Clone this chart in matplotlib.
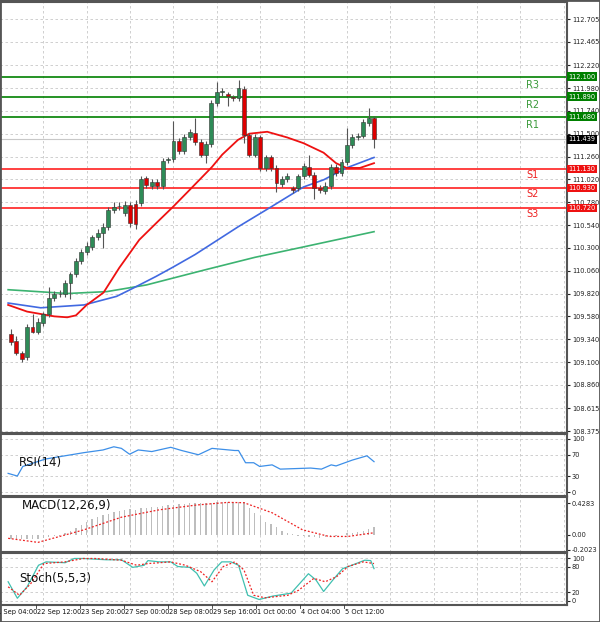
import matplotlib
matplotlib.use("Agg")
import matplotlib.pyplot as plt
import numpy as np

# ---------------- data ----------------
opens = [109.39,109.32,109.19,109.15,109.47,109.42,109.51,109.60,109.77,109.81,
         109.81,109.93,110.02,110.16,110.26,110.31,110.41,110.46,110.52,110.70,
         110.74,110.67,110.75,110.76,110.77,111.03,110.95,110.99,110.95,111.22,
         111.23,111.42,111.32,111.46,111.51,111.41,111.28,111.39,111.82,111.94,
         111.92,111.89,111.87,111.97,111.49,111.28,111.46,111.14,111.25,111.14,
         110.97,111.02,110.93,110.93,111.05,111.15,111.07,110.93,110.90,110.95,
         111.15,111.09,111.20,111.38,111.46,111.48,111.61,111.67]
closes = [109.31,109.20,109.13,109.47,109.42,109.52,109.60,109.77,109.82,109.82,
          109.93,110.02,110.16,110.26,110.32,110.41,110.46,110.52,110.70,110.73,
          110.735,110.75,110.56,110.55,111.02,110.96,110.99,110.95,111.21,111.23,
          111.42,111.32,111.46,111.52,111.41,111.28,111.39,111.82,111.94,111.945,
          111.90,111.87,111.98,111.49,111.28,111.47,111.14,111.25,111.14,110.98,
          111.02,111.06,110.91,111.05,111.16,111.07,110.93,110.91,110.95,111.15,
          111.09,111.20,111.38,111.47,111.48,111.62,111.67,111.439]
highs = [109.45,109.37,109.22,109.50,109.60,109.56,109.63,109.89,109.85,109.86,
         109.96,110.05,110.19,110.29,110.36,110.44,110.50,110.56,110.73,110.78,
         110.78,110.79,110.78,110.80,111.06,111.06,111.02,111.02,111.24,111.26,
         111.63,111.45,111.50,111.55,111.67,111.44,111.42,111.85,112.04,111.98,
         111.94,111.91,112.065,112.00,111.51,111.50,111.49,111.28,111.28,111.17,
         111.05,111.09,110.95,111.08,111.19,111.28,111.10,110.96,110.99,111.18,
         111.18,111.23,111.56,111.50,111.51,111.65,111.77,111.69]
lows = [109.28,109.17,109.10,109.12,109.40,109.39,109.48,109.57,109.74,109.78,
        109.78,109.76,109.99,110.13,110.23,110.28,110.38,110.30,110.49,110.67,
        110.70,110.64,110.52,110.50,110.74,110.93,110.92,110.92,110.92,111.19,
        111.20,111.29,111.29,111.43,111.38,111.25,111.19,111.36,111.79,111.90,
        111.79,111.84,111.84,111.40,111.25,111.25,111.11,111.11,111.11,110.89,
        110.94,110.99,110.88,110.90,111.02,111.04,110.81,110.88,110.87,110.92,
        111.06,111.06,111.17,111.35,111.43,111.45,111.58,111.35]

ma_red_idx = [-0.5,3,8,10.4,12,14,17.1,20,23.7,27,29.9,33,37.1,39,41.9,44,47.3,51,54,57.7,60,61.9,64.4,67]
ma_red = [109.70,109.63,109.58,109.57,109.59,109.70,109.83,110.09,110.385,110.57,110.73,110.91,
          111.15,111.28,111.435,111.50,111.52,111.46,111.40,111.30,111.19,111.14,111.14,111.19]
ma_blue_idx = [-0.5,5.5,13.5,19.5,22,26.8,30,34,41.9,48,54,57.7,61.9,67]
ma_blue = [109.72,109.67,109.70,109.79,109.86,110.00,110.10,110.23,110.52,110.73,110.94,111.015,111.14,111.25]
ma_green_idx = [-0.5,10.4,17.7,25,35.9,45,54,67]
ma_green = [109.86,109.82,109.84,109.91,110.07,110.20,110.31,110.47]

res_levels = [112.100, 111.890, 111.680]
res_names = ["R3", "R2", "R1"]
sup_levels = [111.130, 110.930, 110.720]
sup_names = ["S1", "S2", "S3"]
last_price = 111.439

price_ticks = [112.705,112.465,112.220,111.980,111.740,111.500,111.260,111.020,110.780,
               110.540,110.300,110.060,109.820,109.580,109.340,109.100,108.860,108.615,108.375]

rsi_idx = [-0.5,1.2,2.2,6.4,13.5,17,19,20.4,21.9,23.5,26,29.5,31.5,34.6,37.1,41.3,42,43.3,
           44.8,45.9,48.2,49.7,55.3,57.3,59.1,60,63,65.7,67]
rsi = [35,30,48,62,74,79,85,82,71,79,76,84,78,70,82,78,78,55,55,48,51,43,45,43,51,49,60,68,57]

macd_hist = [-0.05,-0.05,-0.06,-0.06,-0.05,-0.05,-0.04,-0.03,-0.02,-0.01,
             0.02,0.06,0.10,0.14,0.18,0.21,0.24,0.27,0.29,0.31,
             0.33,0.34,0.35,0.34,0.36,0.37,0.38,0.38,0.39,0.40,
             0.41,0.42,0.42,0.43,0.43,0.43,0.43,0.43,0.44,0.45,
             0.45,0.45,0.45,0.44,0.37,0.30,0.26,0.18,0.15,0.11,
             0.06,0.03,0.01,-0.01,-0.02,-0.03,-0.03,-0.04,-0.03,-0.02,
             -0.01,0.00,0.02,0.03,0.04,0.06,0.08,0.11]
macd_sig_idx = [-0.5,5,13.5,20.4,27.4,34.3,40,43,48.2,53.8,58.7,62.2,67]
macd_sig = [-0.045,-0.10,0.07,0.24,0.34,0.405,0.44,0.436,0.30,0.07,-0.02,-0.02,0.03]

stoch_idx = [-0.5,1.2,3,5.1,6.5,10,11.7,13.4,14.8,17.6,20.4,22.5,24.6,25.3,27.4,29.5,30.8,33,
             34.3,35.7,37.5,38.9,40.6,42,43.7,45.8,48.3,51.7,54.9,56.3,57.7,59.4,61.2,62.9,
             65.3,66.4,67]
stoch_k = [45,6,33,84,92,90,100,100,99,97,97,79,84,95,92,92,81,79,65,35,73,92,92,84,13,3,11,
           18,64,49,22,49,76,84,96,95,76]
stoch_sig_idx = [-0.5,1.6,3.7,6.1,10,13.4,15.5,20.4,23.2,25.3,29.5,32.2,35,37.1,39.2,41.3,43,
                 44.8,46.9,51.1,53.1,55.9,58,60.1,62.2,65,67]
stoch_d = [33,13,41,88,92,100,100,96,84,88,92,84,69,45,81,92,73,13,7,13,25,53,45,57,81,92,88]

tick_idx = [-2,6,14,22,30,38,46,54,62,70,78,86,94,102]
date_labels = ["21 Sep 04:00","22 Sep 12:00","23 Sep 20:00","27 Sep 00:00","28 Sep 08:00",
               "29 Sep 16:00","1 Oct 00:00","4 Oct 04:00","5 Oct 12:00"]

# ---------------- figure ----------------
W, H = 600, 622
fig = plt.figure(figsize=(6, 6.22), dpi=100)
fig.patch.set_facecolor("white")
plt.rcParams["font.family"] = "DejaVu Sans"
TS = 4.8

def mk(top, bot):
    return fig.add_axes([0, 1 - bot / H, 567 / W, (bot - top) / H])

ax = mk(2, 433)
ar = mk(434, 496)
am = mk(497, 552)
ast = mk(553, 605)
XL = (-0.5, 102.6)
grid_kw = dict(color="#c8c8c8", lw=0.6, ls=(0, (3, 3)))

for a in (ax, ar, am, ast):
    a.set_xlim(*XL)
    a.set_xticks(tick_idx)
    a.tick_params(axis="x", length=0, labelbottom=False)
    a.grid(True, axis="x", **grid_kw)
    a.yaxis.tick_right()
    a.tick_params(axis="y", labelsize=TS, length=2, pad=1.5, colors="#222222")
    for s in a.spines.values():
        s.set_color("#555555")
        s.set_linewidth(1.5)
    a.set_axisbelow(True)

# main
ax.set_ylim(108.354, 112.884)
ax.set_yticks(price_ticks)
ax.set_yticklabels([f"{v:.3f}" for v in price_ticks])
ax.grid(True, axis="y", **grid_kw)
ax.axhline(last_price, color="#c8c8c8", lw=0.8)
for lv in res_levels:
    ax.axhline(lv, color="#008000", lw=1.2)
for lv in sup_levels:
    ax.axhline(lv, color="#ff2020", lw=1.2)
ax.plot(ma_green_idx, ma_green, color="#3cb371", lw=1.2)
ax.plot(ma_blue_idx, ma_blue, color="#4169e1", lw=1.2)
ax.plot(ma_red_idx, ma_red, color="#ee1111", lw=1.3)

for i, (o, h, l, c) in enumerate(zip(opens, highs, lows, closes)):
    ax.vlines(i, l, h, color="#555555", lw=0.8, zorder=3)
    col = "#2e8b57" if c >= o else "#dd0000"
    b = min(o, c)
    hgt = max(abs(c - o), 0.008)
    ax.bar(i, hgt, bottom=b, width=0.72, color=col, edgecolor="#333333", lw=0.4, zorder=4)

for lv, nm in zip(res_levels, res_names):
    ax.text(96.3, lv - 0.09, nm, color="#3a9a3a", fontsize=7, ha="center", va="center")
for lv, nm in zip(sup_levels, sup_names):
    ax.text(96.3, lv - 0.06, nm, color="#ee2222", fontsize=7, ha="center", va="center")

def box(a, y, txt, fc):
    a.text(1.003, y, txt, transform=a.get_yaxis_transform(), fontsize=TS, color="white",
           va="center", ha="left", bbox=dict(boxstyle="square,pad=0.2", fc=fc, ec="none"),
           zorder=10, clip_on=False)
for lv in res_levels:
    box(ax, lv, f"{lv:.3f}", "#008000")
for lv in sup_levels:
    box(ax, lv, f"{lv:.3f}", "#ee1111")
box(ax, last_price, f"{last_price:.3f}", "#000000")

# RSI
ar.set_ylim(-7.5, 109)
ar.set_yticks([0, 30, 70, 100])
ar.grid(True, axis="y", **grid_kw)
ar.plot(rsi_idx, rsi, color="#3d8fe8", lw=0.9)
ar.text(1.5, 55, "RSI(14)", fontsize=8.5, va="center", color="#111111")

# MACD
am.set_ylim(-0.23, 0.513)
am.set_yticks([0.4283, 0.0, -0.2023])
am.set_yticklabels(["0.4283", "0.00", "-0.2023"])
am.bar(range(len(macd_hist)), macd_hist, width=0.25, color="#bdbdbd")
am.plot(macd_sig_idx, macd_sig, color="#ee2222", lw=0.9, ls=(0, (1.5, 1.5)))
am.text(2, 0.40, "MACD(12,26,9)", fontsize=8.5, va="center", color="#111111")

# Stoch
ast.set_ylim(-10, 113)
ast.set_yticks([0, 20, 80, 100])
ast.grid(True, axis="y", **grid_kw)
ast.plot(stoch_idx, stoch_k, color="#40c0b0", lw=0.9)
ast.plot(stoch_sig_idx, stoch_d, color="#ee2222", lw=0.9, ls=(0, (1.5, 1.5)))
ast.text(1.5, 52, "Stoch(5,5,3)", fontsize=8.5, va="center", color="#111111")

# date labels
for ti, lab in zip(tick_idx, date_labels):
    xpix = (ti - XL[0]) / (XL[1] - XL[0]) * 567
    fig.text((xpix + 1.5) / W, 1 - 612 / H, lab, fontsize=TS, ha="left", va="center", color="#111111")
    fig.add_artist(plt.Line2D([xpix / W, xpix / W], [1 - 605 / H, 1 - 608 / H], color="#333333", lw=0.6))

# outer frame
fig.add_artist(plt.Rectangle((0, 0), 1, 1, transform=fig.transFigure, fill=False, ec="#555555", lw=2))

fig.savefig("out.png", dpi=100)
